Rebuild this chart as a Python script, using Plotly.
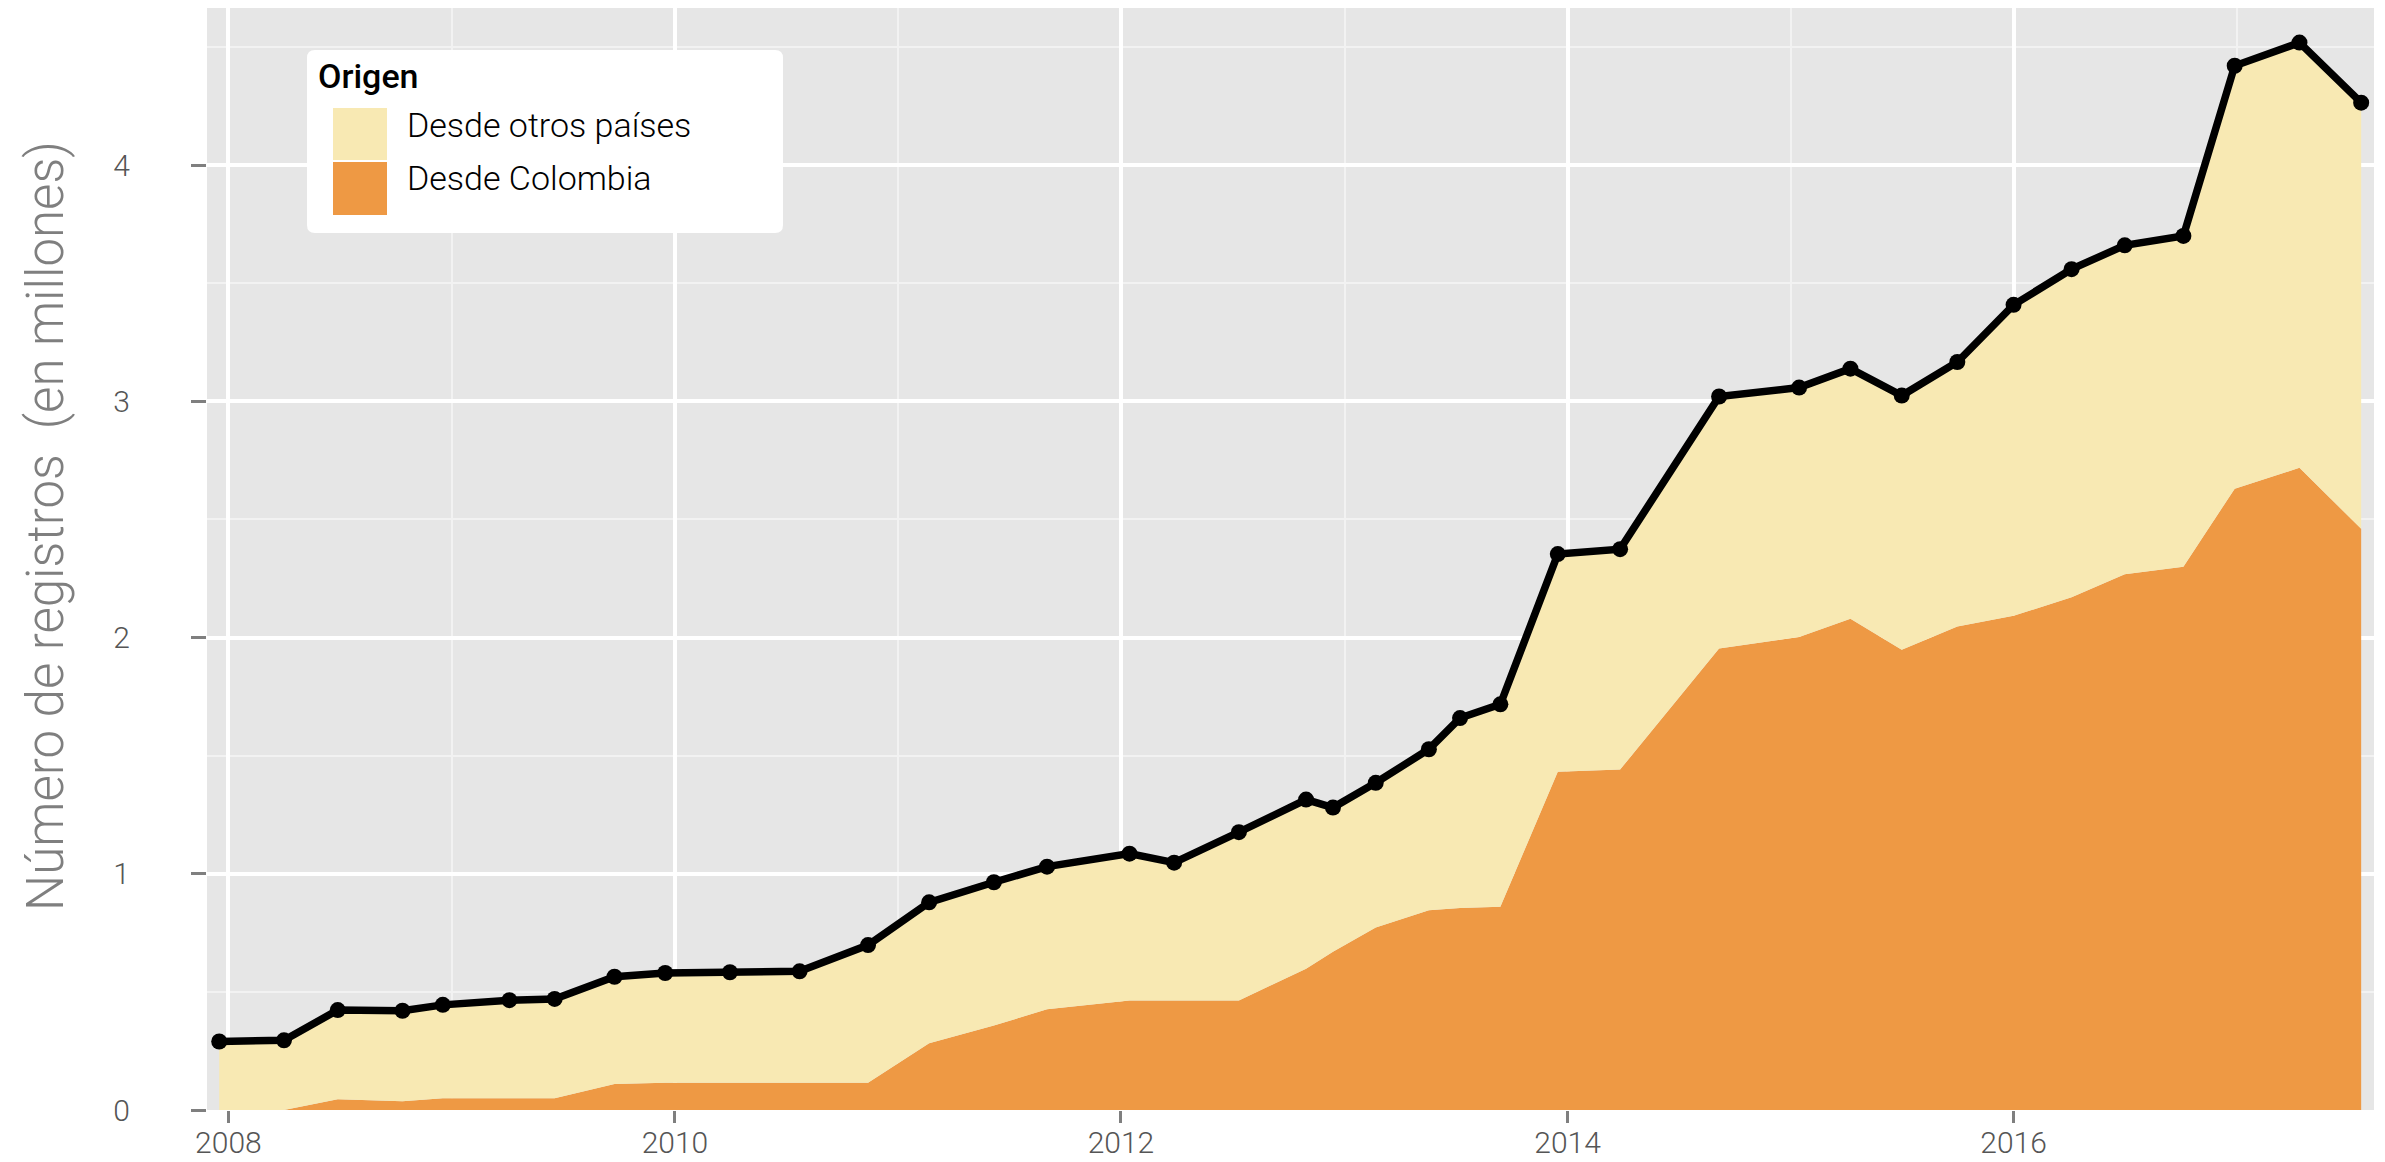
import numpy as np
import plotly.graph_objects as go

# ---------------- data ----------------
fechas = [
    "2007-12-17", "2008-04-01", "2008-06-28", "2008-10-12", "2008-12-17",
    "2009-04-05", "2009-06-18", "2009-09-24", "2009-12-16", "2010-04-01",
    "2010-07-24", "2010-11-13", "2011-02-21", "2011-06-07", "2011-09-02",
    "2012-01-15", "2012-03-28", "2012-07-12", "2012-10-30", "2012-12-13",
    "2013-02-21", "2013-05-19", "2013-07-09", "2013-09-13", "2013-12-16",
    "2014-03-28", "2014-09-06", "2015-01-15", "2015-04-09", "2015-07-02",
    "2015-10-01", "2016-01-01", "2016-04-05", "2016-07-01", "2016-10-05",
    "2016-12-28", "2017-04-13", "2017-07-23",
]
desde_colombia = [
    0.0, 0.0, 0.046, 0.037, 0.05, 0.05, 0.05, 0.11, 0.115, 0.115,
    0.115, 0.115, 0.283, 0.358, 0.426, 0.464, 0.464, 0.464, 0.598, 0.67,
    0.773, 0.846, 0.855, 0.86, 1.432, 1.441, 1.953, 2.002, 2.079, 1.948,
    2.047, 2.092, 2.17, 2.268, 2.30, 2.63, 2.718, 2.46,
]
desde_otros_paises = [
    0.29, 0.295, 0.377, 0.383, 0.395, 0.415, 0.42, 0.454, 0.465, 0.468,
    0.472, 0.583, 0.596, 0.606, 0.604, 0.621, 0.583, 0.712, 0.716, 0.61,
    0.612, 0.681, 0.804, 0.857, 0.921, 0.933, 1.067, 1.056, 1.059, 1.076,
    1.119, 1.316, 1.389, 1.392, 1.40, 1.79, 1.80, 1.804,
]
anios_mayores = ["2008", "2010", "2012", "2014", "2016"]
anios_menores = ["2009", "2011", "2013", "2015", "2017"]
y_ticks = [0, 1, 2, 3, 4]
y_minor = [0.5, 1.5, 2.5, 3.5, 4.5]

serie_col = "Desde Colombia"
serie_otros = "Desde otros países"
titulo_leyenda = "Origen"
titulo_y = "Número de registros  (en millones)"

total = (np.array(desde_colombia) + np.array(desde_otros_paises)).round(4)

# ---------------- geometry / styles ----------------
OFF = 8                       # default page body margin
W, H = 2385 - OFF, 1162 - OFF
ML, MT = 207 - OFF, 0
MR = W - (2374 - OFF)
MB = H - (1110 - OFF)
PW, PH = W - ML - MR, H - MT - MB
COL_OTROS = "#F8E9B3"
COL_COL = "#EE9944"
FONT = "Roboto"


def px_x(px):
    return (px - OFF - ML) / PW


def px_y(py):
    return (H - MB - (py - OFF)) / PH


fig = go.Figure()
fig.add_trace(go.Scatter(
    x=fechas, y=desde_colombia, name=serie_col, stackgroup="one",
    mode="none", fillcolor=COL_COL, showlegend=False, hoverinfo="x+y",
))
fig.add_trace(go.Scatter(
    x=fechas, y=desde_otros_paises, name=serie_otros, stackgroup="one",
    mode="none", fillcolor=COL_OTROS, showlegend=False, hoverinfo="x+y",
))
fig.add_trace(go.Scatter(
    x=fechas, y=total, name="Total", mode="lines+markers",
    line=dict(color="black", width=7.5),
    marker=dict(color="black", size=16),
    showlegend=False,
))

fig.update_layout(
    width=W, height=H,
    margin=dict(l=ML, r=MR, t=MT, b=MB, autoexpand=False),
    paper_bgcolor="white",
    plot_bgcolor="#E6E6E6",
    font=dict(family=FONT, color="#555555"),
    showlegend=False,
)
fig.update_xaxes(
    type="date",
    range=["2007-11-27", "2017-08-13"],
    tickmode="array",
    tickvals=[a + "-01-01" for a in anios_mayores],
    ticktext=anios_mayores,
    ticks="outside", ticklen=12, tickwidth=2.5, tickcolor="#7F7F7F",
    ticklabelstandoff=-6,
    tickfont=dict(family=FONT, size=30, color="#555555", weight=300),
    showgrid=True, gridcolor="white", gridwidth=3.5,
    minor=dict(tickvals=[a + "-01-01" for a in anios_menores], showgrid=True,
               gridcolor="#F2F2F2", gridwidth=1.8, ticklen=0),
    zeroline=False, showline=False,
)
fig.update_yaxes(
    range=[0, (1110 - OFF) / 236.25],
    tickmode="array",
    tickvals=y_ticks,
    ticktext=[str(v) for v in y_ticks],
    ticks="outside", ticklen=15, tickwidth=2.5, tickcolor="#7F7F7F",
    ticklabelstandoff=55,
    tickfont=dict(family=FONT, size=30, color="#555555", weight=300),
    showgrid=True, gridcolor="white", gridwidth=3.5,
    minor=dict(tickvals=y_minor, showgrid=True,
               gridcolor="#F2F2F2", gridwidth=1.8, ticklen=0),
    zeroline=False, showline=False,
)

# y-axis title
fig.add_annotation(
    text=titulo_y, xref="paper", yref="paper",
    x=px_x(45), y=px_y(526), xanchor="center", yanchor="middle",
    textangle=-90, showarrow=False,
    font=dict(family=FONT, size=51, color="#7F7F7F", weight=300),
)


def rounded_rect(x0, y0, x1, y1, r):
    X0, X1 = px_x(x0), px_x(x1)
    Y0, Y1 = px_y(y0), px_y(y1)  # Y0 top, Y1 bottom
    rx, ry = r / PW, r / PH
    return (f"M {X0+rx},{Y0} L {X1-rx},{Y0} Q {X1},{Y0} {X1},{Y0-ry} "
            f"L {X1},{Y1+ry} Q {X1},{Y1} {X1-rx},{Y1} L {X0+rx},{Y1} "
            f"Q {X0},{Y1} {X0},{Y1+ry} L {X0},{Y0-ry} Q {X0},{Y0} {X0+rx},{Y0} Z")


fig.add_shape(type="path", xref="paper", yref="paper",
              path=rounded_rect(307, 50, 783, 233, 8),
              fillcolor="white", line=dict(width=0), layer="above")
for (y0, y1), col in [((108, 160), COL_OTROS), ((162, 215), COL_COL)]:
    fig.add_shape(type="rect", xref="paper", yref="paper",
                  x0=px_x(333), x1=px_x(387), y0=px_y(y1), y1=px_y(y0),
                  fillcolor=col, line=dict(width=0), layer="above")

fig.add_annotation(text=titulo_leyenda, xref="paper", yref="paper",
                   x=px_x(316), y=px_y(76), xanchor="left", yanchor="middle",
                   showarrow=False,
                   font=dict(family=FONT, size=34, color="black", weight=500))
for txt, cy in [(serie_otros, 125), (serie_col, 178)]:
    fig.add_annotation(text=txt, xref="paper", yref="paper",
                       x=px_x(405), y=px_y(cy), xanchor="left", yanchor="middle",
                       showarrow=False,
                       font=dict(family=FONT, size=34, color="black", weight=300))

fig.write_html("out.html")
